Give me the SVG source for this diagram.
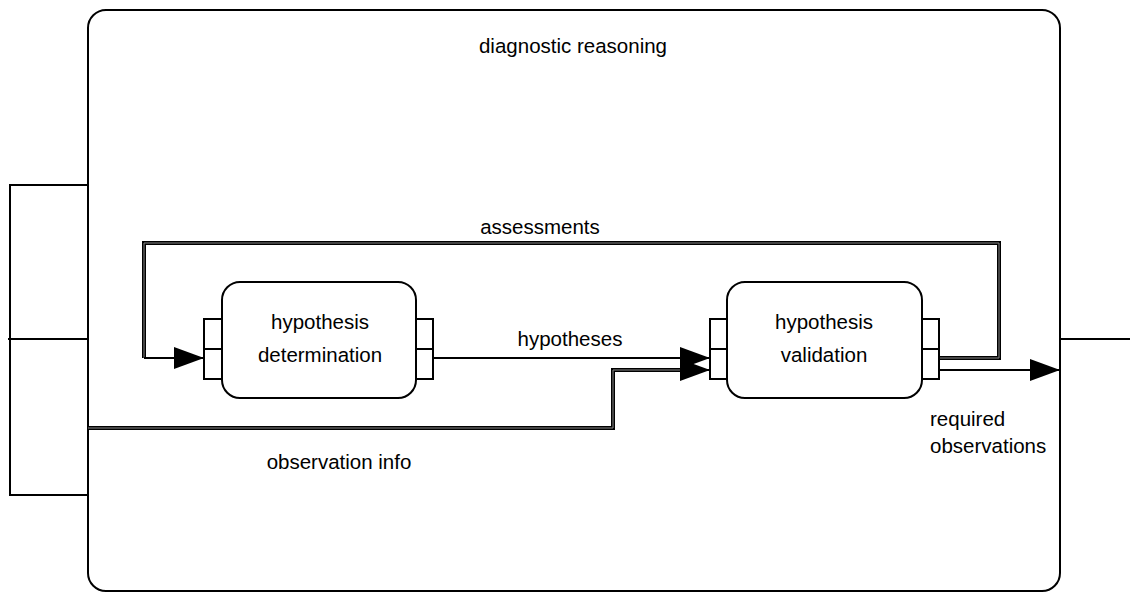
<svg xmlns="http://www.w3.org/2000/svg" width="1130" height="592" viewBox="0 0 1130 592">
<defs>
<style>
.ln{fill:none;stroke:#000;stroke-width:2}
.dbl{fill:none;stroke:#000;stroke-width:4}
.dbli{fill:none;stroke:#888;stroke-width:1}
.box{fill:#fff;stroke:#000;stroke-width:2}
text{font-family:"Liberation Sans",Arial,sans-serif;font-size:20.5px;fill:#000}
.c{text-anchor:middle}
</style>
<marker id="arr" viewBox="0 0 30 22" refX="30" refY="11" markerWidth="30" markerHeight="22" markerUnits="userSpaceOnUse" orient="auto">
<path d="M0,0 L30,11 L0,22 Z" fill="#000"/>
</marker>
</defs>
<g id="diagnostic-reasoning">
<rect x="88" y="10" width="972" height="581" rx="18" class="box"/>
<text x="573" y="53" class="c">diagnostic reasoning</text>
<rect x="10" y="185" width="78" height="154" class="box"/>
<rect x="10" y="339" width="78" height="156" class="box"/>
<line x1="8" y1="339" x2="88" y2="339" class="ln"/>
<line x1="1060" y1="339" x2="1130" y2="339" class="ln"/>
</g>
<g id="connectors">
<path d="M939,358 H999 V243 H144 V358" class="dbl"/>
<path d="M939,358 H999 V243 H144 V358" class="dbli"/>
<path d="M144,358 H204" class="ln" marker-end="url(#arr)"/>
<path d="M433,358 H710" class="ln" marker-end="url(#arr)"/>
<path d="M88,428 H613 V370 H680" class="dbl"/>
<path d="M88,428 H613 V370 H680" class="dbli"/>
<path d="M680,370 H710" class="ln" marker-end="url(#arr)"/>
<path d="M939,370 H1060" class="ln" marker-end="url(#arr)"/>
<text x="540" y="234" class="c">assessments</text>
<text x="570" y="346" class="c">hypotheses</text>
<text x="339" y="469" class="c">observation info</text>
<text x="930" y="426">required</text>
<text x="930" y="453">observations</text>
</g>
<g id="hypothesis-determination">
<rect x="222" y="282" width="194" height="116" rx="18" class="box"/>
<rect x="204" y="319" width="18" height="30" class="box"/>
<rect x="204" y="349" width="18" height="30" class="box"/>
<rect x="416" y="319" width="17" height="30" class="box"/>
<rect x="416" y="349" width="17" height="30" class="box"/>
<text x="320" y="329" class="c">hypothesis</text>
<text x="320" y="362" class="c">determination</text>
</g>
<g id="hypothesis-validation">
<rect x="727" y="282" width="195" height="116" rx="18" class="box"/>
<rect x="710" y="319" width="17" height="30" class="box"/>
<rect x="710" y="349" width="17" height="30" class="box"/>
<rect x="922" y="319" width="17" height="30" class="box"/>
<rect x="922" y="349" width="17" height="30" class="box"/>
<text x="824" y="329" class="c">hypothesis</text>
<text x="824" y="362" class="c">validation</text>
</g>
</svg>
